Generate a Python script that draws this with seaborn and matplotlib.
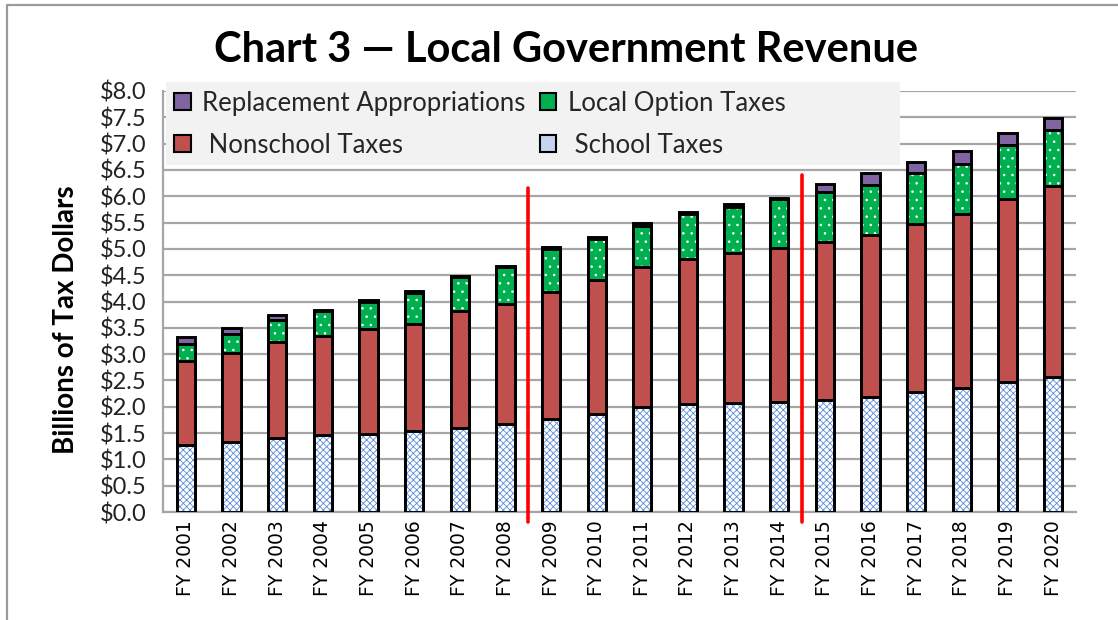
import numpy as np
import pandas as pd
import seaborn as sns
import matplotlib.pyplot as plt
import matplotlib.patches as mpatches
from matplotlib.lines import Line2D

# ---------------- data (billions of dollars) ----------------
years = ["FY 2001", "FY 2002", "FY 2003", "FY 2004", "FY 2005", "FY 2006", "FY 2007",
         "FY 2008", "FY 2009", "FY 2010", "FY 2011", "FY 2012", "FY 2013", "FY 2014",
         "FY 2015", "FY 2016", "FY 2017", "FY 2018", "FY 2019", "FY 2020"]
school_taxes = [1.28, 1.33, 1.41, 1.47, 1.49, 1.53, 1.60, 1.67, 1.77, 1.86,
                1.99, 2.05, 2.07, 2.09, 2.12, 2.19, 2.28, 2.35, 2.47, 2.56]
nonschool_taxes = [1.58, 1.69, 1.82, 1.88, 1.98, 2.04, 2.22, 2.29, 2.42, 2.54,
                   2.66, 2.76, 2.86, 2.93, 3.02, 3.07, 3.19, 3.32, 3.47, 3.63]
local_option_taxes = [0.34, 0.37, 0.42, 0.46, 0.52, 0.60, 0.64, 0.69, 0.81, 0.78,
                      0.79, 0.86, 0.86, 0.92, 0.94, 0.96, 0.97, 0.95, 1.03, 1.07]
replacement_approps = [0.13, 0.10, 0.09, 0.03, 0.04, 0.03, 0.03, 0.03, 0.03, 0.04,
                       0.06, 0.04, 0.06, 0.03, 0.15, 0.22, 0.21, 0.24, 0.24, 0.22]
y_ticks = [0.0, 0.5, 1.0, 1.5, 2.0, 2.5, 3.0, 3.5, 4.0, 4.5, 5.0, 5.5, 6.0, 6.5, 7.0, 7.5, 8.0]
dividers_after = ["FY 2008", "FY 2014"]
divider_tops = [6.15, 6.40]

# ---------------- style ----------------
sns.set_theme(style="white")
plt.rcParams['font.family'] = ['Lato', 'DejaVu Sans']
plt.rcParams['hatch.linewidth'] = 0.6

C_REPL = "#8064A2"
C_LOT = "#00B050"
C_NON = "#C0504D"
C_SCH_HATCH = "#5b8bd6"
GRID = "#a6a6a6"

fig = plt.figure(figsize=(11.18, 6.2), dpi=100)
W, H = 1118, 620
ax = fig.add_axes([163 / W, 108 / H, 913 / W, 421 / H])

school = np.array(school_taxes)
c2 = school + np.array(nonschool_taxes)
c3 = c2 + np.array(local_option_taxes)
c4 = c3 + np.array(replacement_approps)

layers = [
    (c4, C_REPL, None, C_REPL),
    (c3, C_LOT, "..", "white"),
    (c2, C_NON, None, C_NON),
    (school, "white", "xxxxx", C_SCH_HATCH),
]
BW = 0.4
for vals, fc, hatch, hc in layers:
    df = pd.DataFrame({"year": years, "value": vals})
    sns.barplot(data=df, x="year", y="value", color=fc, saturation=1, width=BW,
                linewidth=0, edgecolor=hc, hatch=hatch, ax=ax, zorder=3, errorbar=None)
    n1 = len(ax.patches)
    sns.barplot(data=df, x="year", y="value", color=fc, saturation=1, width=BW,
                linewidth=2.1, edgecolor="black", ax=ax, zorder=3, errorbar=None)
    for p in ax.patches[n1:]:
        p.set_facecolor("none")

# dividers
for lab, top in zip(dividers_after, divider_tops):
    xi = years.index(lab) + 0.5
    ax.plot([xi, xi], [-0.19, top], color="#ff0000", lw=2.6, clip_on=False, zorder=5)

# axes
ax.set_xlim(-0.5, len(years) - 0.5)
ax.set_ylim(0, 8)
ax.set_yticks(y_ticks)
ax.set_yticklabels([f"${v:.1f}" for v in y_ticks], fontsize=17, family=['Lato'])
ax.set_xticks(range(len(years)))
ax.set_xticklabels(years, rotation=90, fontsize=13.5, family=['DejaVu Sans'])
ax.set_xticks(np.arange(-0.5, len(years), 1.0), minor=True)
ax.tick_params(axis="x", which="major", length=0, pad=6, colors="black")
ax.tick_params(axis="x", which="minor", length=7, width=1.5, color=GRID)
ax.tick_params(axis="y", which="major", length=7, width=1.5, color=GRID, pad=5, labelcolor="#222222")
ax.set_xlabel("")
ax.set_ylabel("")
ax.yaxis.grid(True, color=GRID, lw=1.6)
ax.xaxis.grid(False)
ax.set_axisbelow(True)
for s in ["top", "right"]:
    ax.spines[s].set_visible(False)
for s in ["left", "bottom"]:
    ax.spines[s].set_color(GRID)
    ax.spines[s].set_linewidth(1.6)

# title & y label
fig.text(566 / W, 1 - 50 / H, "Chart 3 — Local Government Revenue", ha="center", va="center",
         fontsize=30, fontweight="bold", color="black")
fig.text(66 / W, 1 - 320 / H, "Billions of Tax Dollars", rotation=90, ha="center", va="center",
         fontsize=20, fontweight="bold", color="black")

# legend background box
fig.add_artist(mpatches.Rectangle((166 / W, 1 - 165 / H), 734 / W, 83 / H,
                                  transform=fig.transFigure, facecolor="#f2f2f2",
                                  edgecolor="none", zorder=1))
handles = [
    mpatches.Patch(facecolor=C_REPL, edgecolor="black", lw=1.5),
    mpatches.Patch(facecolor=C_NON, edgecolor="black", lw=1.5),
    mpatches.Patch(facecolor=C_LOT, edgecolor="black", lw=1.5),
    mpatches.Patch(facecolor="#c5d5f0", edgecolor="black", lw=1.5),
]
labels = ["Replacement Appropriations", " Nonschool Taxes", "Local Option Taxes", " School Taxes"]
fig.legend(handles, labels, ncol=2, loc="upper left", bbox_to_anchor=(170 / W, 1 - 87 / H),
           bbox_transform=fig.transFigure, frameon=False, fontsize=18.5,
           handlelength=0.65, handleheight=0.65, handletextpad=0.45,
           columnspacing=0.55, labelspacing=0.65, borderaxespad=0, borderpad=0.15)

# outer border (top and left)
fig.add_artist(Line2D([7 / W, 7 / W], [0, 1 - 5 / H], transform=fig.transFigure, color="#9a9a9a", lw=1.6))
fig.add_artist(Line2D([7 / W, 1], [1 - 5 / H, 1 - 5 / H], transform=fig.transFigure, color="#9a9a9a", lw=1.6))

fig.savefig("out.png", dpi=100)
